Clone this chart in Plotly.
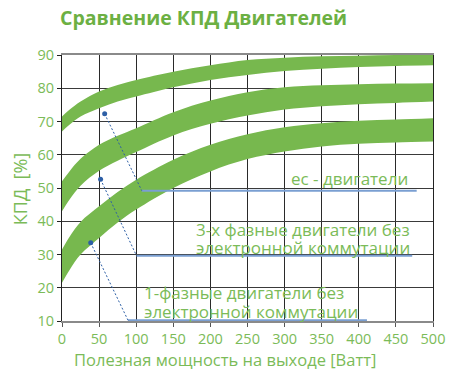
import plotly.graph_objects as go

# Output power [W]
x_power = [0, 10, 25, 50, 75, 100, 150, 200, 250, 300, 350, 400, 450, 500]

# EC motors band (efficiency %)
ec_upper = [71.5, 73.5, 76.0, 79.0, 81.0, 82.5, 85.0, 86.9, 88.5, 89.2, 89.6, 89.8, 90.0, 90.0]
ec_lower = [67.0, 69.0, 71.5, 74.0, 76.0, 77.5, 80.3, 82.5, 84.0, 85.2, 85.9, 86.4, 86.7, 86.9]

# 3-phase motors without electronic commutation
tri_upper = [52.0, 55.0, 58.8, 63.0, 65.7, 68.0, 72.8, 76.3, 78.8, 80.3, 80.9, 81.2, 81.4, 81.5]
tri_lower = [43.0, 46.5, 50.7, 55.2, 58.2, 60.8, 65.8, 69.3, 71.8, 73.6, 74.6, 75.2, 75.6, 76.0]

# 1-phase motors without electronic commutation
one_upper = [31.5, 35.3, 39.8, 44.5, 48.8, 52.5, 58.5, 63.0, 66.2, 68.3, 69.5, 70.2, 70.6, 71.0]
one_lower = [21.5, 25.3, 30.0, 35.0, 39.6, 43.5, 50.0, 55.0, 58.7, 61.0, 62.5, 63.3, 63.7, 64.0]

# Callouts: dot point, knee point, end of underline
callout_dot_x = [57.5, 52.0, 38.7]
callout_dot_y = [72.3, 52.6, 33.5]
callout_knee_x = [107.5, 100.5, 89.0]
callout_knee_y = [49.2, 29.6, 10.2]
callout_end_x = [478.0, 472.0, 411.0]

# Callout text lines and their positions
label_lines = ["ec - двигатели",
               "3-х фазные двигатели без", "электронной коммутации",
               "1-фазные двигатели без", "электронной коммутации"]
label_x = [306.0, 177.5, 177.5, 108.0, 108.0]
label_y = [52.9, 37.5, 32.0, 18.5, 13.0]

x_ticks = list(range(0, 501, 50))
y_ticks = list(range(10, 91, 10))

GREEN = "#77b84e"
TEXT_GREEN = "#7bbb58"
FONT = "Open Sans"

fig = go.Figure()

for lo, up in [(ec_lower, ec_upper), (tri_lower, tri_upper), (one_lower, one_upper)]:
    fig.add_trace(go.Scatter(x=x_power, y=lo, mode="lines", line=dict(width=0, shape="spline", color=GREEN),
                             showlegend=False, hoverinfo="skip"))
    fig.add_trace(go.Scatter(x=x_power, y=up, mode="lines", line=dict(width=0, shape="spline", color=GREEN),
                             fill="tonexty", fillcolor=GREEN, showlegend=False, hoverinfo="skip"))

for i in range(3):
    fig.add_trace(go.Scatter(x=[callout_knee_x[i], callout_end_x[i]], y=[callout_knee_y[i], callout_knee_y[i]],
                             mode="lines", line=dict(color="#7a9fd2", width=2), showlegend=False,
                             cliponaxis=False, hoverinfo="skip"))
    fig.add_trace(go.Scatter(x=[callout_dot_x[i], callout_knee_x[i]], y=[callout_dot_y[i], callout_knee_y[i]],
                             mode="lines", line=dict(color="#2d5fa6", width=1, dash="2px,2px"),
                             showlegend=False, hoverinfo="skip"))
    fig.add_trace(go.Scatter(x=[callout_dot_x[i]], y=[callout_dot_y[i]], mode="markers",
                             marker=dict(color="#2d5fa6", size=5), showlegend=False, hoverinfo="skip"))

for txt, lx, ly in zip(label_lines, label_x, label_y):
    fig.add_annotation(x=lx, y=ly, text=txt, xanchor="left", yanchor="middle", align="left",
                       showarrow=False, font=dict(family=FONT, size=17, color=TEXT_GREEN))

fig.add_annotation(xref="paper", yref="paper", x=-0.012, y=1.141, text="<b>Сравнение КПД Двигателей</b>",
                   xanchor="left", yanchor="middle", showarrow=False,
                   font=dict(family=FONT, size=19.5, color="#6cb043"))
fig.add_annotation(xref="paper", yref="paper", x=0.44, y=-0.146, text="Полезная мощность на выходе [Ватт]",
                   xanchor="center", yanchor="middle", showarrow=False,
                   font=dict(family=FONT, size=16.5, color=TEXT_GREEN))
fig.add_annotation(xref="paper", yref="paper", x=-0.111, y=0.495, text="КПД  [%]", textangle=-90,
                   xanchor="center", yanchor="middle", showarrow=False,
                   font=dict(family=FONT, size=18, color=TEXT_GREEN))

fig.update_layout(
    width=457, height=375,
    margin=dict(l=62, r=20, t=55, b=54),
    paper_bgcolor="white", plot_bgcolor="white",
    xaxis=dict(range=[0, 500], tickvals=x_ticks, showgrid=True, gridcolor="#2a2a2a", gridwidth=1,
               showline=True, linecolor="#8a8a8a", linewidth=2, mirror=True,
               ticks="outside", ticklen=4, tickcolor="#555555", ticklabelstandoff=0,
               tickfont=dict(family=FONT, size=14.5, color=TEXT_GREEN), zeroline=False),
    yaxis=dict(range=[10, 90], tickvals=y_ticks, showgrid=True, gridcolor="#3a3a3a", gridwidth=1,
               showline=True, linecolor="#222222", linewidth=1, mirror=True,
               ticks="outside", ticklen=4, tickcolor="#222222",
               tickfont=dict(family=FONT, size=14.5, color=TEXT_GREEN), zeroline=False),
)

fig.write_html("out.html")
